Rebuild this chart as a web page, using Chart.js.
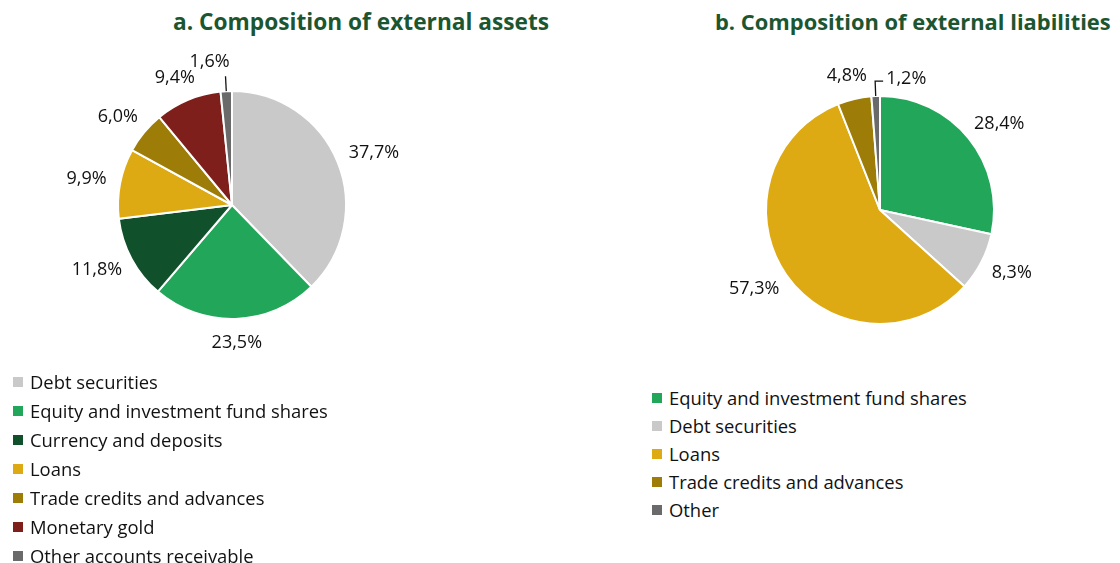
<!DOCTYPE html>
<html>
<head>
<meta charset="utf-8">
<script src="https://cdn.jsdelivr.net/npm/chart.js@4.4.0/dist/chart.umd.min.js"></script>
<style>
  body { margin: 0; background: #fff; width: 1120px; height: 563px; overflow: hidden; position: relative; font-family: "Open Sans", Lato, sans-serif; }
  .title { position: absolute; top: 6px; font-weight: bold; font-size: 22.7px; color: #1b5631; white-space: nowrap; }
  .box { position: absolute; }
  .legend { position: absolute; font-size: 18.4px; color: #111; }
  .legend div { position: relative; padding-left: 17px; white-space: nowrap; }
  .legend span { position: absolute; left: 0; top: 50%; width: 10px; height: 10px; margin-top: -5px; }
</style>
</head>
<body>

<div class="title" id="titleA" style="left:173px">a. Composition of external assets</div>
<div class="title" id="titleB" style="left:715px;font-size:21.9px;top:7px">b. Composition of external liabilities</div>

<div class="box" style="left:0;top:0;width:560px;height:370px"><canvas id="chartA"></canvas></div>
<div class="box" style="left:560px;top:0;width:560px;height:370px"><canvas id="chartB"></canvas></div>

<div class="legend" id="legendA" style="left:13px;top:367px"></div>
<div class="legend" id="legendB" style="left:652px;top:384px"></div>

<script>
// data
var assetLabels = ['Debt securities', 'Equity and investment fund shares', 'Currency and deposits', 'Loans', 'Trade credits and advances', 'Monetary gold', 'Other accounts receivable'];
var assetValues = [37.7, 23.5, 11.8, 9.9, 6.0, 9.4, 1.6];
var assetColors = ['#c9c9c9', '#22a65a', '#10502b', '#ddaa14', '#9d7c08', '#7e1f1c', '#6a6a6a'];

var liabLabels = ['Equity and investment fund shares', 'Debt securities', 'Loans', 'Trade credits and advances', 'Other'];
var liabValues = [28.4, 8.3, 57.3, 4.8, 1.2];
var liabColors = ['#22a65a', '#c9c9c9', '#ddaa14', '#9d7c08', '#6a6a6a'];

////Percent labels around the pie/////

var pctLabels = {
  id: 'pctLabels',
  afterDatasetsDraw: function(chart, args, opts) {
    var ctx = chart.ctx;
    var meta = chart.getDatasetMeta(0);
    var values = chart.data.datasets[0].data;
    ctx.save();
    ctx.font = '18px "Open Sans"';
    ctx.fillStyle = '#111';
    ctx.strokeStyle = '#111';
    ctx.lineWidth = 1.3;
    ctx.textBaseline = 'middle';
    meta.data.forEach(function(arc, i) {
      var p = arc.getProps(['x', 'y', 'startAngle', 'endAngle', 'outerRadius'], true);
      var mid = (p.startAngle + p.endAngle) / 2;
      var dx = Math.cos(mid), dy = Math.sin(mid);
      var r = p.outerRadius;
      var text = values[i].toFixed(1).replace('.', ',') + '%';
      var hw = ctx.measureText(text).width / 2;

      if (values[i] < 2) {
        // small slice: leader line
        var x0 = p.x + dx * r, y0 = p.y + dy * r;
        var x1 = p.x + dx * (r + 15), y1 = p.y + dy * (r + 15);
        ctx.beginPath();
        ctx.moveTo(x0, y0);
        ctx.lineTo(x1, y1);
        if (opts.elbow) {
          ctx.lineTo(x1 + 8, y1);
          ctx.stroke();
          ctx.textAlign = 'left';
          ctx.fillText(text, x1 + 11, y1 - 2);
        } else {
          ctx.stroke();
          ctx.textAlign = 'center';
          ctx.fillText(text, x1 - 16, y1 - 14);
        }
        return;
      }
      ctx.textAlign = 'center';
      var x = p.x + dx * (r + 14) + dx * hw;
      var y = p.y + dy * (r + 14) + dy * 10;
      ctx.fillText(text, x, y);
    });
    ctx.restore();
  }
};

function makePie(id, labels, values, colors, padding, elbow) {
  return new Chart(document.getElementById(id), {
    type: 'pie',
    data: {
      labels: labels,
      datasets: [{
        data: values,
        backgroundColor: colors,
        borderColor: '#ffffff',
        borderWidth: 2
      }]
    },
    options: {
      responsive: true,
      maintainAspectRatio: false,
      animation: false,
      layout: { padding: padding },
      plugins: {
        legend: { display: false },
        tooltip: { enabled: false },
        pctLabels: { elbow: elbow }
      }
    },
    plugins: [pctLabels]
  });
}

makePie('chartA', assetLabels, assetValues, assetColors, { left: 117, top: 90, right: 213, bottom: 50 }, false);
makePie('chartB', liabLabels, liabValues, liabColors, { left: 205, top: 95, right: 125, bottom: 45 }, true);

////Legends/////

function fillLegend(id, labels, colors, rowHeight) {
  var box = document.getElementById(id);
  labels.forEach(function(label, i) {
    var row = document.createElement('div');
    row.style.height = rowHeight + 'px';
    row.style.lineHeight = rowHeight + 'px';
    var sw = document.createElement('span');
    sw.style.background = colors[i];
    row.appendChild(sw);
    row.appendChild(document.createTextNode(label));
    box.appendChild(row);
  });
}

fillLegend('legendA', assetLabels, assetColors, 29);
fillLegend('legendB', liabLabels, liabColors, 28);
</script>
</body>
</html>
